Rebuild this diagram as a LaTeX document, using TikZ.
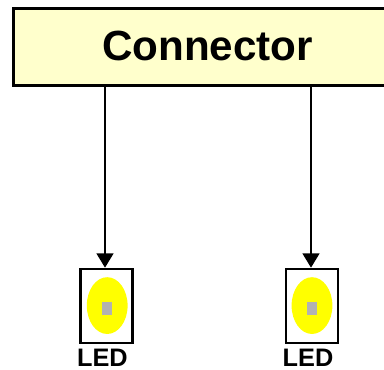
\documentclass[tikz,border=0pt]{standalone}
\usepackage{fontspec}
\setmainfont{Liberation Sans}
\usepackage{tikz}
\usetikzlibrary{arrows.meta}
\definecolor{crema}{HTML}{FFFFCC}
\definecolor{giallo}{HTML}{FFFF00}
\definecolor{grigio}{HTML}{B2B2B2}
\tikzset{
  wire/.style={draw=black, line width=1.6pt, -{Triangle[length=0.36cm,width=0.42cm]}},
  ledbox/.style={draw=black, line width=1.8pt, minimum width=1.3cm, minimum height=1.85cm, inner sep=0pt},
  ledlabel/.style={font=\bfseries\fontsize{18}{18}\selectfont, inner sep=0pt}
}
\begin{document}
\begin{tikzpicture}
  \useasboundingbox (0,0) rectangle (9.6,9.25);
  % Connector bar
  \node[draw=black, line width=2pt, fill=crema, minimum width=9.6cm, minimum height=1.92cm, inner sep=0pt] (conn) at (5.14,8.08) {};
  \node[font=\bfseries\fontsize{30}{30}\selectfont, inner sep=0pt] (connlabel) at (5.19,8.09) {Connector};
  % Left LED
  \fill[giallo] (2.68,1.61) ellipse (0.51cm and 0.71cm);
  \fill[grigio] (2.55,1.375) rectangle (2.8,1.70);
  \node[ledbox] (boxa) at (2.656,1.6) {};
  \node[ledlabel] (leda) at (2.56,0.31) {LED};
  % Right LED
  \fill[giallo] (7.8,1.61) ellipse (0.51cm and 0.71cm);
  \fill[grigio] (7.67,1.375) rectangle (7.92,1.70);
  \node[ledbox] (boxb) at (7.8,1.6) {};
  \node[ledlabel] (ledb) at (7.7,0.31) {LED};
  % Wires
  \coordinate (topa) at (conn.south -| 2.625,0);
  \coordinate (topb) at (conn.south -| 7.775,0);
  \draw[wire] (topa) -- (topa |- boxa.north);
  \draw[wire] (topb) -- (topb |- boxb.north);
\end{tikzpicture}
\end{document}
